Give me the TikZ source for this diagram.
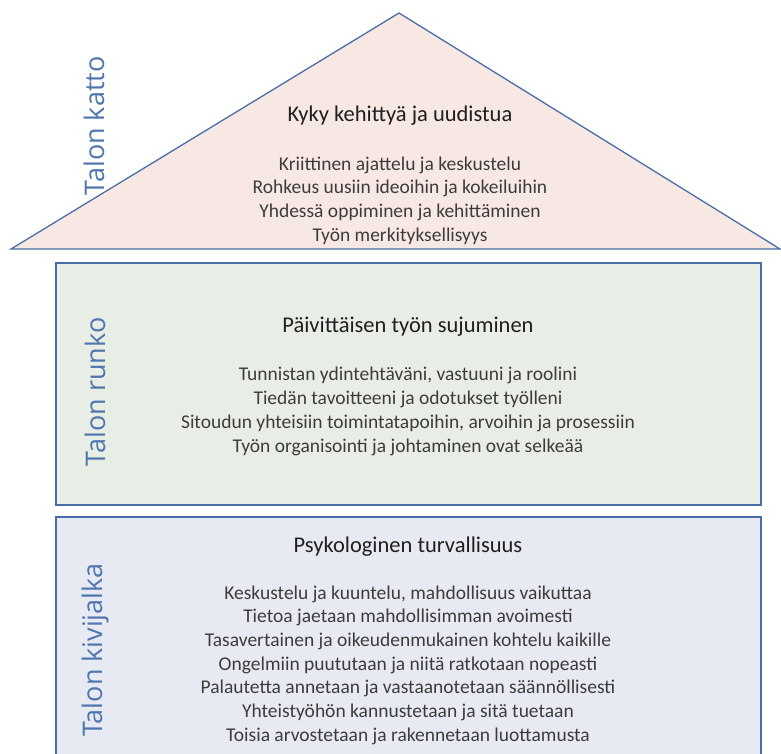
\documentclass[tikz,border=0pt]{standalone}
\usepackage{fontspec}
\setmainfont{Carlito}
\newfontfamily\sidefont{Open Sans}
\usetikzlibrary{positioning}

\definecolor{edgeblue}{HTML}{4A6EA6}
\definecolor{labelblue}{HTML}{4F75AD}
\definecolor{roofpink}{HTML}{F8E8E4}
\definecolor{framegreen}{HTML}{E8EEE5}
\definecolor{footgray}{HTML}{E7EAF2}
\definecolor{itemgray}{HTML}{3C3C3C}

\begin{document}
\begin{tikzpicture}[x=1pt, y=-1pt, node distance=27pt,
    part/.style={draw=edgeblue, line width=1.3pt},
    heading/.style={text=black!88, font=\fontsize{22.5}{26}\selectfont},
    items/.style={text=itemgray, align=center, inner sep=0pt, font=\fontsize{19.5}{23.7}\selectfont},
    side/.style={rotate=90, text=labelblue, font=\sidefont\fontsize{27}{30}\selectfont}]
    \useasboundingbox (0,0) rectangle (781,754);

    % roof
    \coordinate (eaveL) at (11,249);
    \coordinate (ridge) at (399,13);
    \coordinate (eaveR) at (780,249);
    \draw[part, fill=roofpink] (eaveL) -- (ridge) -- (eaveR) -- cycle;

    % frame and foundation
    \draw[part, fill=framegreen] (56,263) rectangle (761,505);
    \draw[part, fill=footgray]   (56,517) rectangle (761,772);

    \node[side]     (katto)      at (94,126)   {Talon katto};
    \node[side]     (runko)      at (95,392)   {Talon runko};
    \node[side]     (kivijalka)  at (95,650)   {Talon kivijalka};

    \node[heading]  (roofhead)   at (400,116)  {Kyky kehittyä ja uudistua};
    \node[items]    (roofitems)  [below=of roofhead]  {Kriittinen ajattelu ja keskustelu\\
        Rohkeus uusiin ideoihin ja kokeiluihin\\
        Yhdessä oppiminen ja kehittäminen\\
        Työn merkityksellisyys};

    \node[heading]  (framehead)  at (408,327)  {Päivittäisen työn sujuminen};
    \node[items]    (frameitems) [below=of framehead] {Tunnistan ydintehtäväni, vastuuni ja roolini\\
        Tiedän tavoitteeni ja odotukset työlleni\\
        Sitoudun yhteisiin toimintatapoihin, arvoihin ja prosessiin\\
        Työn organisointi ja johtaminen ovat selkeää};

    \node[heading]  (foothead)   at (408,547)  {Psykologinen turvallisuus};
    \node[items]    (footitems)  [below=25pt of foothead]  {Keskustelu ja kuuntelu, mahdollisuus vaikuttaa\\
        Tietoa jaetaan mahdollisimman avoimesti\\
        Tasavertainen ja oikeudenmukainen kohtelu kaikille\\
        Ongelmiin puututaan ja niitä ratkotaan nopeasti\\
        Palautetta annetaan ja vastaanotetaan säännöllisesti\\
        Yhteistyöhön kannustetaan ja sitä tuetaan\\
        Toisia arvostetaan ja rakennetaan luottamusta};
\end{tikzpicture}
\end{document}
